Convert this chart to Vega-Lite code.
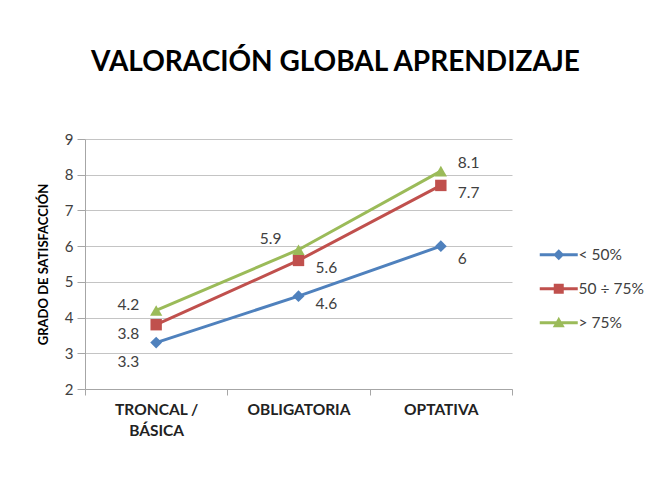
{
  "$schema": "https://vega.github.io/schema/vega-lite/v6.json",
  "width": 427,
  "height": 250,
  "autosize": "none",
  "padding": {"left": 85, "top": 139, "right": 140, "bottom": 88},
  "background": "white",
  "config": {"view": {"stroke": null}},
  "title": {
    "text": "VALORACIÓN GLOBAL APRENDIZAJE",
    "font": "Lato",
    "fontSize": 28,
    "fontWeight": "bold",
    "color": "#000000",
    "anchor": "middle",
    "dx": 37,
    "offset": 55
  },
  "data": {
    "values": [
      {"tipo": "TRONCAL / BÁSICA", "serie": "< 50%", "valor": 3.3},
      {"tipo": "OBLIGATORIA", "serie": "< 50%", "valor": 4.6},
      {"tipo": "OPTATIVA", "serie": "< 50%", "valor": 6},
      {"tipo": "TRONCAL / BÁSICA", "serie": "50 ÷ 75%", "valor": 3.8},
      {"tipo": "OBLIGATORIA", "serie": "50 ÷ 75%", "valor": 5.6},
      {"tipo": "OPTATIVA", "serie": "50 ÷ 75%", "valor": 7.7},
      {"tipo": "TRONCAL / BÁSICA", "serie": "> 75%", "valor": 4.2},
      {"tipo": "OBLIGATORIA", "serie": "> 75%", "valor": 5.9},
      {"tipo": "OPTATIVA", "serie": "> 75%", "valor": 8.1}
    ]
  },
  "encoding": {
    "x": {
      "field": "tipo",
      "type": "nominal",
      "sort": ["TRONCAL / BÁSICA", "OBLIGATORIA", "OPTATIVA"],
      "scale": {"type": "band", "paddingInner": 0, "paddingOuter": 0},
      "axis": {
        "title": null,
        "labelAngle": 0,
        "labelFont": "Lato",
        "labelFontSize": 15.5,
        "labelFontWeight": "bold",
        "labelColor": "#222222",
        "labelExpr": "datum.label == 'TRONCAL / BÁSICA' ? ['TRONCAL /', 'BÁSICA'] : datum.label",
        "labelLineHeight": 21,
        "tickBand": "extent",
        "tickSize": 6,
        "labelPadding": 7,
        "domainColor": "#a6a6a6",
        "tickColor": "#a6a6a6",
        "grid": false
      }
    },
    "y": {
      "field": "valor",
      "type": "quantitative",
      "scale": {"domain": [2, 9], "nice": false, "zero": false},
      "axis": {
        "title": "GRADO DE SATISFACCIÓN",
        "titleFont": "Lato",
        "titleFontSize": 13,
        "titleFontWeight": "bold",
        "titleColor": "#000000",
        "titlePadding": 14,
        "values": [2, 3, 4, 5, 6, 7, 8, 9],
        "labelFont": "Lato",
        "labelFontSize": 15,
        "labelColor": "#404040",
        "labelPadding": 4,
        "tickSize": 8,
        "tickColor": "#a6a6a6",
        "domainColor": "#a6a6a6",
        "gridColor": "#c4c4c4",
        "grid": true
      }
    },
    "color": {
      "field": "serie",
      "type": "nominal",
      "scale": {
        "domain": ["< 50%", "50 ÷ 75%", "> 75%"],
        "range": ["#4f81bd", "#c0504d", "#9bbb59"]
      },
      "legend": {
        "orient": "none",
        "legendX": 466,
        "legendY": 108,
        "title": null,
        "padding": 0,
        "symbolSize": 100,
        "symbolStrokeWidth": 0,
        "labelOffset": 12,
        "labelFont": "Lato",
        "labelFontSize": 15.5,
        "labelColor": "#404040",
        "rowPadding": 17,
        "encode": {
          "symbols": {
            "update": {
              "shape": {"signal": "datum.value === '< 50%' ? 'M-3.8,-0.3H-0.8L0,-1.1L0.8,-0.3H3.8V0.3H0.8L0,1.1L-0.8,0.3H-3.8Z' : (datum.value === '> 75%' ? 'M-3.8,-0.3H-0.5L0,-1.2L0.5,-0.3H3.8V0.3H0.85L1.2,0.9H-1.2L-0.85,0.3H-3.8Z' : 'M-3.8,-0.3H-1V-1H1V-0.3H3.8V0.3H1V1H-1V0.3H-3.8Z')"},
              "fill": {"scale": "color", "field": "value"},
              "strokeWidth": {"value": 0},
              "opacity": {"value": 1}
            }
          }
        }
      }
    }
  },
  "layer": [
    {"mark": {"type": "line", "strokeWidth": 3}},
    {
      "transform": [{"filter": "datum.serie == '< 50%'"}],
      "mark": {"type": "point", "filled": true, "opacity": 1, "size": 140, "shape": "diamond"}
    },
    {
      "transform": [{"filter": "datum.serie == '50 ÷ 75%'"}],
      "mark": {"type": "point", "filled": true, "opacity": 1, "size": 130, "shape": "square"}
    },
    {
      "transform": [{"filter": "datum.serie == '> 75%'"}],
      "mark": {"type": "point", "filled": true, "opacity": 1, "size": 150, "shape": "triangle-up"}
    },
    {
      "transform": [{"filter": "datum.serie == '< 50%' && datum.tipo == 'TRONCAL / BÁSICA'"}],
      "mark": {"type": "text", "align": "right", "dx": -17, "dy": 19, "font": "Lato", "fontSize": 15.5},
      "encoding": {"text": {"field": "valor", "type": "quantitative"}, "color": {"value": "#404040"}}
    },
    {
      "transform": [{"filter": "datum.serie == '50 ÷ 75%' && datum.tipo == 'TRONCAL / BÁSICA'"}],
      "mark": {"type": "text", "align": "right", "dx": -17, "dy": 9, "font": "Lato", "fontSize": 15.5},
      "encoding": {"text": {"field": "valor", "type": "quantitative"}, "color": {"value": "#404040"}}
    },
    {
      "transform": [{"filter": "datum.serie == '> 75%' && datum.tipo == 'TRONCAL / BÁSICA'"}],
      "mark": {"type": "text", "align": "right", "dx": -17, "dy": -5, "font": "Lato", "fontSize": 15.5},
      "encoding": {"text": {"field": "valor", "type": "quantitative"}, "color": {"value": "#404040"}}
    },
    {
      "transform": [{"filter": "datum.serie == '> 75%' && datum.tipo == 'OBLIGATORIA'"}],
      "mark": {"type": "text", "align": "right", "dx": -17, "dy": -11, "font": "Lato", "fontSize": 15.5},
      "encoding": {"text": {"field": "valor", "type": "quantitative"}, "color": {"value": "#404040"}}
    },
    {
      "transform": [{"filter": "datum.tipo != 'TRONCAL / BÁSICA' && !(datum.serie == '> 75%') && !(datum.serie == '< 50%' && datum.tipo == 'OPTATIVA')"}],
      "mark": {"type": "text", "align": "left", "dx": 17, "dy": 8, "font": "Lato", "fontSize": 15.5},
      "encoding": {"text": {"field": "valor", "type": "quantitative"}, "color": {"value": "#404040"}}
    },
    {
      "transform": [{"filter": "datum.serie == '> 75%' && datum.tipo == 'OPTATIVA'"}],
      "mark": {"type": "text", "align": "left", "dx": 17, "dy": -8, "font": "Lato", "fontSize": 15.5},
      "encoding": {"text": {"field": "valor", "type": "quantitative"}, "color": {"value": "#404040"}}
    },
    {
      "transform": [{"filter": "datum.serie == '< 50%' && datum.tipo == 'OPTATIVA'"}],
      "mark": {"type": "text", "align": "left", "dx": 17, "dy": 13, "font": "Lato", "fontSize": 15.5},
      "encoding": {"text": {"field": "valor", "type": "quantitative"}, "color": {"value": "#404040"}}
    }
  ]
}
